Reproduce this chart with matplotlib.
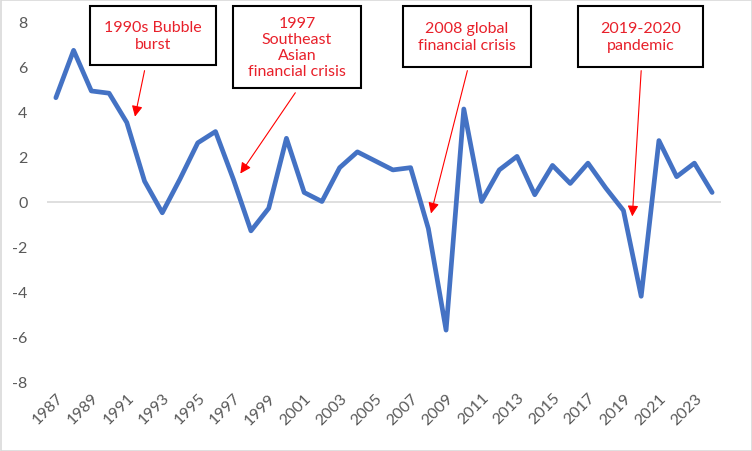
import matplotlib
matplotlib.use('Agg')
import numpy as np
from matplotlib import pyplot as plt
from matplotlib.patches import Rectangle

years = list(range(1987, 2025))
growth = [4.6, 6.7, 4.9, 4.8, 3.5, 0.9, -0.5, 1.0, 2.6, 3.1,
          1.0, -1.3, -0.3, 2.8, 0.4, 0.0, 1.5, 2.2, 1.8, 1.4,
          1.5, -1.2, -5.7, 4.1, 0.0, 1.4, 2.0, 0.3, 1.6, 0.8,
          1.7, 0.6, -0.4, -4.2, 2.7, 1.1, 1.7, 0.4]
y_ticks = [-8, -6, -4, -2, 0, 2, 4, 6, 8]

# annotation texts, arrow tips and tails (year, value)
notes = ['1990s Bubble\nburst', '1997\nSoutheast\nAsian\nfinancial crisis',
         '2008 global\nfinancial crisis', '2019-2020\npandemic']
tips = [(1991.46, 3.76), (1997.4, 1.24), (2008.15, -0.53), (2019.5, -0.66)]
tails = [(1992.0, 5.8), (2000.5, 4.82), (2010.2, 5.8), (2020.0, 5.8)]

W, H = 752, 452
plt.rcParams['font.family'] = ['Lato', 'DejaVu Sans']
plt.rcParams['axes.unicode_minus'] = False
fig = plt.figure(figsize=(W/100, H/100), dpi=100)
ax = fig.add_axes([47/W, 1-383/H, (721-47)/W, (383-22)/H])

x = np.arange(len(years))
ax.plot(x, growth, color='#4472C4', lw=3.4, solid_joinstyle='round', solid_capstyle='round', zorder=3)
ax.axhline(0, color='#D9D9D9', lw=1.2, zorder=1)

ax.set_xlim(-0.5, len(years)-0.5)
ax.set_ylim(-8, 8)
ax.set_yticks(y_ticks)
ax.set_xticks(x[::2])
ax.set_xticklabels([str(y) for y in years[::2]], rotation=45, ha='right', rotation_mode='anchor')
ax.tick_params(axis='both', length=0, labelsize=11.5, labelcolor='#595959')
ax.tick_params(axis='y', pad=14)
ax.tick_params(axis='x', pad=6)
for s in ax.spines.values():
    s.set_visible(False)

# boxes in pixel coords: left, right, top, bottom
boxes = [(90, 216, 7, 66), (233, 361, 7, 89), (403, 531, 7, 68), (578, 703, 7, 68)]
for (l, r, t, b), txt in zip(boxes, notes):
    fig.patches.append(Rectangle((l/W, 1-b/H), (r-l)/W, (b-t)/H, transform=fig.transFigure,
                                 facecolor='white', edgecolor='black', lw=1.5, zorder=5))
    fig.text((l+r)/2/W, 1-(t+b)/2/H, txt, ha='center', va='center', color='#E8202A',
             fontsize=11.5, linespacing=1.2, zorder=6)

for (tx, ty), (sx, sy) in zip(tips, tails):
    ax.annotate('', xy=(tx-1987, ty), xytext=(sx-1987, sy),
                arrowprops=dict(arrowstyle='-|>', color='red', lw=0.8, mutation_scale=16,
                                shrinkA=0, shrinkB=0))

fig.patches.append(Rectangle((0.5/W, 0.5/H), (W-1)/W, (H-1)/H, transform=fig.transFigure,
                             facecolor='none', edgecolor='#D9D9D9', lw=1.2))

fig.savefig('out.png', dpi=100)
